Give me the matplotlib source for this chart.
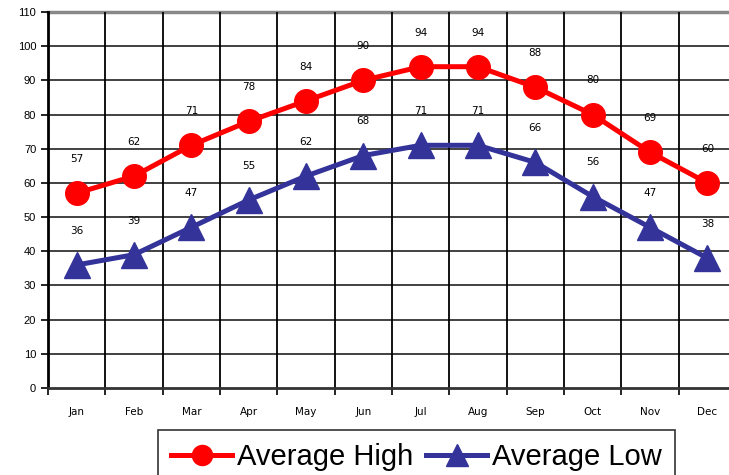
import numpy as np
import matplotlib.pyplot as plt

months = ['Jan', 'Feb', 'Mar', 'Apr', 'May', 'Jun',
          'Jul', 'Aug', 'Sep', 'Oct', 'Nov', 'Dec']
avg_high = [57, 62, 71, 78, 84, 90, 94, 94, 88, 80, 69, 60]
avg_low = [36, 39, 47, 55, 62, 68, 71, 71, 66, 56, 47, 38]
y_ticks = list(range(0, 111, 10))

plt.rcParams['font.family'] = ['Liberation Sans', 'DejaVu Sans']

fig = plt.figure(figsize=(7.29, 4.75), dpi=100)
# axes runs past the right edge, like the original (cut off at Dec)
ax = fig.add_axes([48 / 729, 87 / 475, 688 / 729, 376 / 475])

x = np.arange(len(months)) + 0.5

ax.plot(x, avg_high, '-o', color='#ff0000', linewidth=3.6,
        markersize=17, label='Average High', zorder=4)
ax.plot(x, avg_low, '-^', color='#333399', linewidth=3.6,
        markersize=19, label='Average Low', zorder=4)

for xi, v in zip(x, avg_high):
    ax.annotate(str(v), (xi, v), xytext=(0, 21), textcoords='offset points',
                ha='center', va='bottom', fontsize=7.5, family='DejaVu Sans')
for xi, v in zip(x, avg_low):
    ax.annotate(str(v), (xi, v), xytext=(0, 21), textcoords='offset points',
                ha='center', va='bottom', fontsize=7.5, family='DejaVu Sans')

ax.set_xlim(0, 12)
ax.set_ylim(0, 110)
ax.set_yticks(y_ticks)
ax.tick_params(axis='y', labelsize=8, length=5, width=1.2, direction='out')

ax.set_xticks(x)
ax.set_xticklabels(months, fontsize=7.5, family='DejaVu Sans')
ax.set_xticks(np.arange(0, 13), minor=True)
ax.tick_params(axis='x', which='major', length=0, pad=14)
ax.tick_params(axis='x', which='minor', length=5, width=1.2)

for yv in y_ticks[1:-1]:
    ax.axhline(yv, color='#333333', linewidth=1.3, zorder=1)
ax.axhline(110, color='#888888', linewidth=2.5, zorder=1, clip_on=False)
for xv in range(1, 12):
    ax.axvline(xv, color='black', linewidth=1.3, zorder=1)

for s in ['top', 'right']:
    ax.spines[s].set_visible(False)
ax.spines['left'].set_linewidth(2)
ax.spines['bottom'].set_linewidth(2)
ax.spines['bottom'].set_color('#333333')

leg = fig.legend(loc='upper left', bbox_to_anchor=(158 / 729, 1 - 430 / 475),
                 ncol=2, fontsize=21, frameon=True, fancybox=False,
                 handlelength=2.1, handletextpad=0.15, columnspacing=0.45,
                 borderpad=0.45, markerscale=0.85, borderaxespad=0)
leg.get_frame().set_edgecolor('black')
leg.get_frame().set_linewidth(1.2)

fig.savefig('out.png', dpi=100)
